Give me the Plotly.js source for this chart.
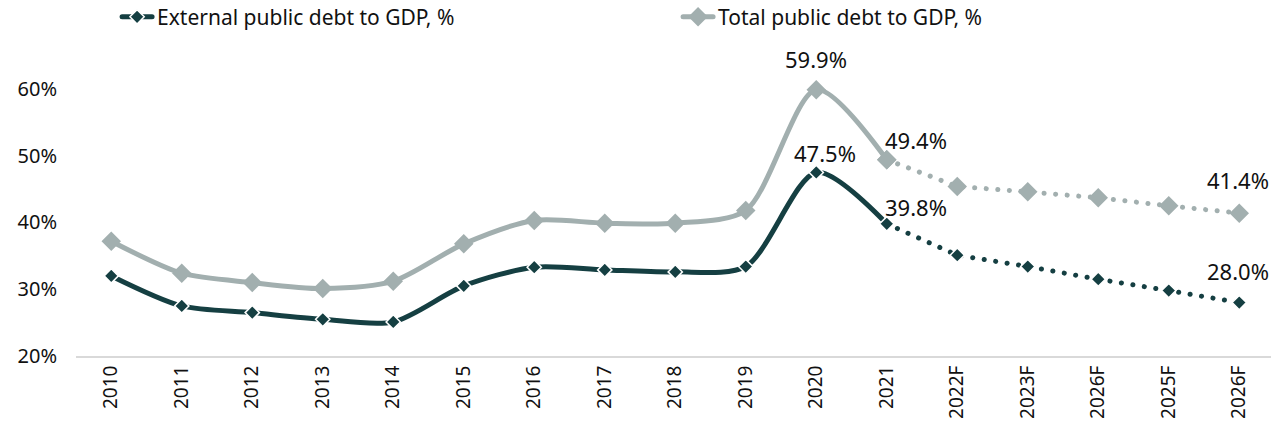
<!DOCTYPE html>
<html><head><meta charset="utf-8">
<script src="https://cdn.plot.ly/plotly-3.0.1.min.js"></script>
<style>html,body{margin:0;padding:0;background:#fff}#chart{width:1271px;height:428px}
#chart path.js-line{stroke-linecap:round}</style>
</head><body><div id="chart"></div>
<script>
const categories = ["2010","2011","2012","2013","2014","2015","2016","2017","2018","2019","2020","2021","2022F","2023F","2026F","2025F","2026F"];
const externalDebt = [32.0,27.5,26.5,25.5,25.1,30.5,33.3,32.9,32.6,33.4,47.5,39.8,35.1,33.4,31.5,29.8,28.0];
const totalDebt = [37.2,32.4,31.0,30.1,31.2,36.8,40.3,39.9,39.9,41.8,59.9,49.4,45.4,44.6,43.7,42.5,41.4];
const lastActualIndex = 11;
const labelledIndices = [10,11,16];
const yTickVals = [20,30,40,50,60];

const idx = categories.map((c,i)=>i);
const hist = idx.slice(0,lastActualIndex+1);
const fc = idx.slice(lastActualIndex);
const darkC = '#153f42', greyC = '#a2afaf';
const fnt = "'Noto Sans', 'Open Sans', sans-serif";
const dotDash = '0.1px,11.5px';

// label offsets in px (style, per labelled point)
const extShift = [[9,19],[29,17],[-1,32]];
const totShift = [[0,31],[29,20],[-1,33]];
function labelAnns(vals, shifts){
  return labelledIndices.map((i,k)=>({x:i, y:vals[i], text:vals[i].toFixed(1)+'%', showarrow:false,
    xanchor:'center', yanchor:'middle', xshift:shifts[k][0], yshift:shifts[k][1],
    font:{family:fnt,size:22,color:'#111'}}));
}

const traces = [
  {x:fc, y:fc.map(i=>externalDebt[i]), mode:'lines+markers', showlegend:false,
   line:{color:darkC,width:5,dash:dotDash}, marker:{symbol:'diamond',size:11,color:darkC,line:{color:'#fff',width:1.5}}, cliponaxis:false},
  {x:fc, y:fc.map(i=>totalDebt[i]), mode:'lines+markers', showlegend:false,
   line:{color:greyC,width:5,dash:dotDash}, marker:{symbol:'diamond',size:15,color:greyC}, cliponaxis:false},
  {x:hist, y:hist.map(i=>externalDebt[i]), name:'External public debt to GDP, %', mode:'lines+markers',
   line:{color:darkC,width:5,shape:'spline',smoothing:0.8}, marker:{symbol:'diamond',size:11,color:darkC,line:{color:'#fff',width:1.5}}, cliponaxis:false},
  {x:hist, y:hist.map(i=>totalDebt[i]), name:'Total public debt to GDP, %', mode:'lines+markers',
   line:{color:greyC,width:5,shape:'spline',smoothing:0.8}, marker:{symbol:'diamond',size:15,color:greyC}, cliponaxis:false}
];

const layout = {
  width:1271, height:428, paper_bgcolor:'#fff', plot_bgcolor:'#fff',
  margin:{l:76,r:0,t:62,b:72},
  font:{family:fnt,color:'#111'},
  showlegend:true,
  legend:{orientation:'h',x:0.5335,xanchor:'center',xref:'container',yref:'container',y:0.96,yanchor:'middle',
    font:{family:fnt,size:21,color:'#111'},entrywidth:516,itemwidth:30,traceorder:'normal'},
  annotations: labelAnns(externalDebt, extShift).concat(labelAnns(totalDebt, totShift)),
  xaxis:{range:[-0.5,16.45],tickmode:'array',tickvals:idx,ticktext:categories,tickangle:-90,
    tickfont:{family:fnt,size:19,color:'#111'},showgrid:false,zeroline:false,showline:true,linecolor:'#d9d9d9',linewidth:2,ticks:'',fixedrange:true},
  yaxis:{range:[20,64.04],tickmode:'array',tickvals:yTickVals,ticktext:yTickVals.map(v=>v+'%'),
    tickfont:{family:fnt,size:20,color:'#111'},showgrid:false,zeroline:false,showline:false,ticks:'',ticklabelstandoff:18,fixedrange:true}
};
Plotly.newPlot('chart',traces,layout,{displayModeBar:false,staticPlot:true});
</script></body></html>
